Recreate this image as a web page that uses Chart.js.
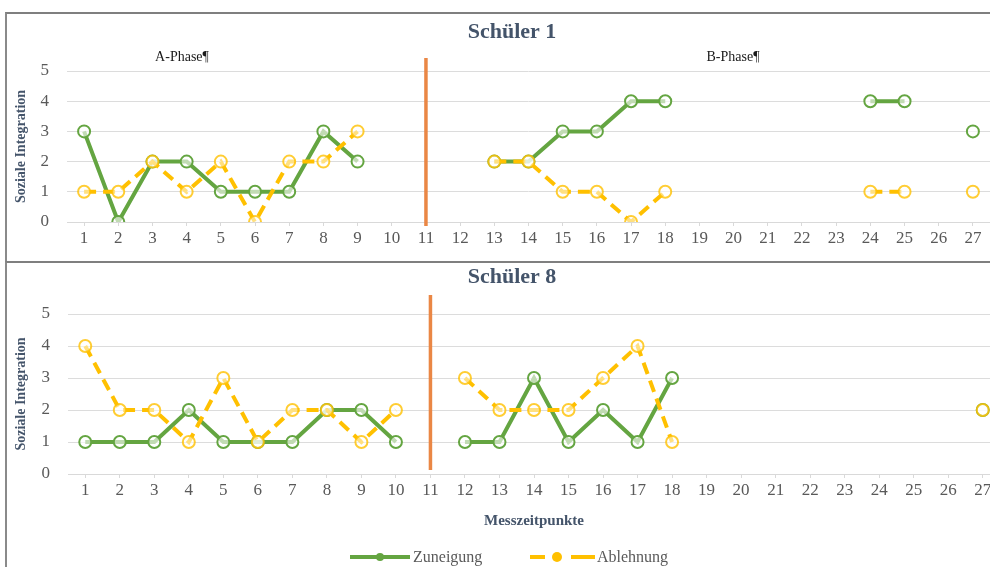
<!DOCTYPE html>
<html>
<head>
<meta charset="utf-8">
<script src="https://cdn.jsdelivr.net/npm/chart.js"></script>
<style>
  body { margin: 0; background: #fff; width: 990px; height: 567px; overflow: hidden; position: relative; }
  #frame1 { position: absolute; left: 5px; top: 12px; width: 990px; height: 250px; border-top: 2px solid #7f7f7f; border-left: 2px solid #8a8a8a; }
  #frame2 { position: absolute; left: 5px; top: 261px; width: 990px; height: 310px; border-top: 2px solid #7f7f7f; border-left: 2px solid #8a8a8a; }
  #box1 { position: absolute; left: 6px; top: 14px; width: 992px; height: 248px; }
  #box2 { position: absolute; left: 6px; top: 263px; width: 1002px; height: 304px; }
</style>
</head>
<body>
<div id="frame1"></div>
<div id="frame2"></div>
<div id="box1"><canvas id="chart_s1"></canvas></div>
<div id="box2"><canvas id="chart_s8"></canvas></div>
<script>
// Messzeitpunkte 1..27
const messzeitpunkte = ['1','2','3','4','5','6','7','8','9','10','11','12','13','14','15','16','17','18','19','20','21','22','23','24','25','26','27'];
const yTicks = [0, 1, 2, 3, 4, 5];

// Schüler 1
const s1Zuneigung = [3, 0, 2, 2, 1, 1, 1, 3, 2, null, null, null, 2, 2, 3, 3, 4, 4, null, null, null, null, null, 4, 4, null, 3];
const s1Ablehnung = [1, 1, 2, 1, 2, 0, 2, 2, 3, null, null, null, 2, 2, 1, 1, 0, 1, null, null, null, null, null, 1, 1, null, 1];

// Schüler 8
const s8Zuneigung = [1, 1, 1, 2, 1, 1, 1, 2, 2, 1, null, 1, 1, 3, 1, 2, 1, 3, null, null, null, null, null, null, null, null, 2];
const s8Ablehnung = [4, 2, 2, 1, 3, 1, 2, 2, 1, 2, null, 3, 2, 2, 2, 3, 4, 1, null, null, null, null, null, null, null, null, 2];

const GREEN = '#64a541';
const YELLOW = '#ffc000';
const ORANGE = '#ea8745';
const SERIF = '"Liberation Serif", "DejaVu Serif", serif';

// titles, phase line, phase labels and legend
const extras = {
  id: 'extras',
  beforeDatasetsDraw(chart, args, opts) {
    const ctx = chart.ctx;
    const x = chart.scales.x.getPixelForValue(opts.phaseAt);
    ctx.save();
    ctx.strokeStyle = ORANGE;
    ctx.lineWidth = 3.5;
    ctx.beginPath();
    ctx.moveTo(x, opts.lineTop);
    ctx.lineTo(x, opts.lineBottom);
    ctx.stroke();
    ctx.restore();
  },
  afterDraw(chart, args, opts) {
    const ctx = chart.ctx;
    ctx.save();
    ctx.textAlign = 'center';
    ctx.textBaseline = 'middle';
    ctx.fillStyle = '#44546a';
    ctx.font = 'bold 22px ' + SERIF;
    ctx.fillText(opts.title, opts.titleX, opts.titleY);
    if (opts.phases) {
      ctx.fillStyle = '#1a1a1a';
      ctx.font = '14px ' + SERIF;
      opts.phases.forEach(p => ctx.fillText(p.text, p.x, p.y));
    }
    if (opts.legend) {
      const y = opts.legend.y;
      ctx.textAlign = 'left';
      ctx.font = '16px ' + SERIF;
      ctx.lineWidth = 4;
      ctx.lineCap = 'butt';
      // Zuneigung
      ctx.strokeStyle = GREEN;
      ctx.beginPath(); ctx.moveTo(344, y); ctx.lineTo(404, y); ctx.stroke();
      ctx.fillStyle = GREEN; ctx.beginPath(); ctx.arc(374, y, 4, 0, Math.PI * 2); ctx.fill();
      ctx.fillStyle = '#595959'; ctx.fillText('Zuneigung', 407, y + 1);
      // Ablehnung
      ctx.strokeStyle = YELLOW;
      ctx.beginPath(); ctx.moveTo(524, y); ctx.lineTo(539, y); ctx.stroke();
      ctx.beginPath(); ctx.moveTo(565, y); ctx.lineTo(589, y); ctx.stroke();
      ctx.fillStyle = YELLOW; ctx.beginPath(); ctx.arc(551, y, 5, 0, Math.PI * 2); ctx.fill();
      ctx.fillStyle = '#595959'; ctx.fillText('Ablehnung', 591, y + 1);
    }
    ctx.restore();
  }
};

function makeChart(id, zun, abl, cfg) {
  return new Chart(id, {
    type: 'line',
    data: {
      labels: messzeitpunkte,
      datasets: [
        {
          label: 'Zuneigung',
          data: zun,
          borderColor: GREEN,
          backgroundColor: 'rgba(255,255,255,0.7)',
          borderWidth: 4,
          pointRadius: 6,
          pointBorderWidth: 2,
          pointBorderColor: GREEN,
          pointBackgroundColor: 'rgba(255,255,255,0.6)',
          spanGaps: false,
          tension: 0,
          order: 2
        },
        {
          label: 'Ablehnung',
          data: abl,
          borderColor: YELLOW,
          backgroundColor: 'rgba(255,255,255,0.7)',
          borderWidth: 4,
          borderDash: [12, 7],
          pointRadius: 6,
          pointBorderWidth: 2,
          pointBorderColor: 'rgba(255,192,0,0.8)',
          pointBackgroundColor: 'rgba(255,255,255,0.5)',
          spanGaps: false,
          tension: 0,
          order: 1
        }
      ]
    },
    options: {
      responsive: true,
      maintainAspectRatio: false,
      animation: false,
      layout: { padding: { top: cfg.padTop, bottom: cfg.padBottom, left: 0, right: 0 } },
      plugins: {
        legend: { display: false },
        tooltip: { enabled: false },
        extras: cfg.extras
      },
      scales: {
        x: {
          offset: true,
          afterFit: s => { s.height = cfg.xHeight; },
          grid: { drawOnChartArea: false, drawTicks: true, tickLength: 4, color: '#d9d9d9' },
          border: { display: true, color: '#d9d9d9' },
          ticks: { color: '#595959', font: { family: SERIF, size: 17 }, padding: 2, maxRotation: 0, autoSkip: false },
          title: cfg.xTitle ? {
            display: true, text: 'Messzeitpunkte', color: '#44546a',
            font: { family: SERIF, size: 15, weight: 'bold' }, padding: { top: 0, bottom: 2 }
          } : { display: false }
        },
        y: {
          min: 0,
          max: 5,
          afterFit: s => { s.width = cfg.yWidth; },
          afterBuildTicks: s => { s.ticks = yTicks.map(v => ({ value: v })); },
          grid: { color: '#dcdcdc', drawTicks: false },
          border: { display: false },
          ticks: { color: '#595959', font: { family: SERIF, size: 17 }, padding: 18 },
          title: {
            display: true, text: 'Soziale Integration', color: '#44546a',
            font: { family: SERIF, size: 14, weight: 'bold' }, padding: { top: 7, bottom: 0 }
          }
        }
      }
    },
    plugins: [extras]
  });
}

makeChart('chart_s1', s1Zuneigung, s1Ablehnung, {
  padTop: 57, padBottom: 0, xHeight: 40, yWidth: 61, xTitle: false,
  extras: {
    title: 'Schüler 1', titleX: 506, titleY: 18,
    phaseAt: 10, lineTop: 44, lineBottom: 212,
    phases: [{ text: 'A-Phase¶', x: 176, y: 43 }, { text: 'B-Phase¶', x: 727, y: 43 }]
  }
});

makeChart('chart_s8', s8Zuneigung, s8Ablehnung, {
  padTop: 51, padBottom: 35, xHeight: 58, yWidth: 62, xTitle: true,
  extras: {
    title: 'Schüler 8', titleX: 506, titleY: 14,
    phaseAt: 10, lineTop: 32, lineBottom: 207,
    legend: { y: 294 }
  }
});
</script>
</body>
</html>
